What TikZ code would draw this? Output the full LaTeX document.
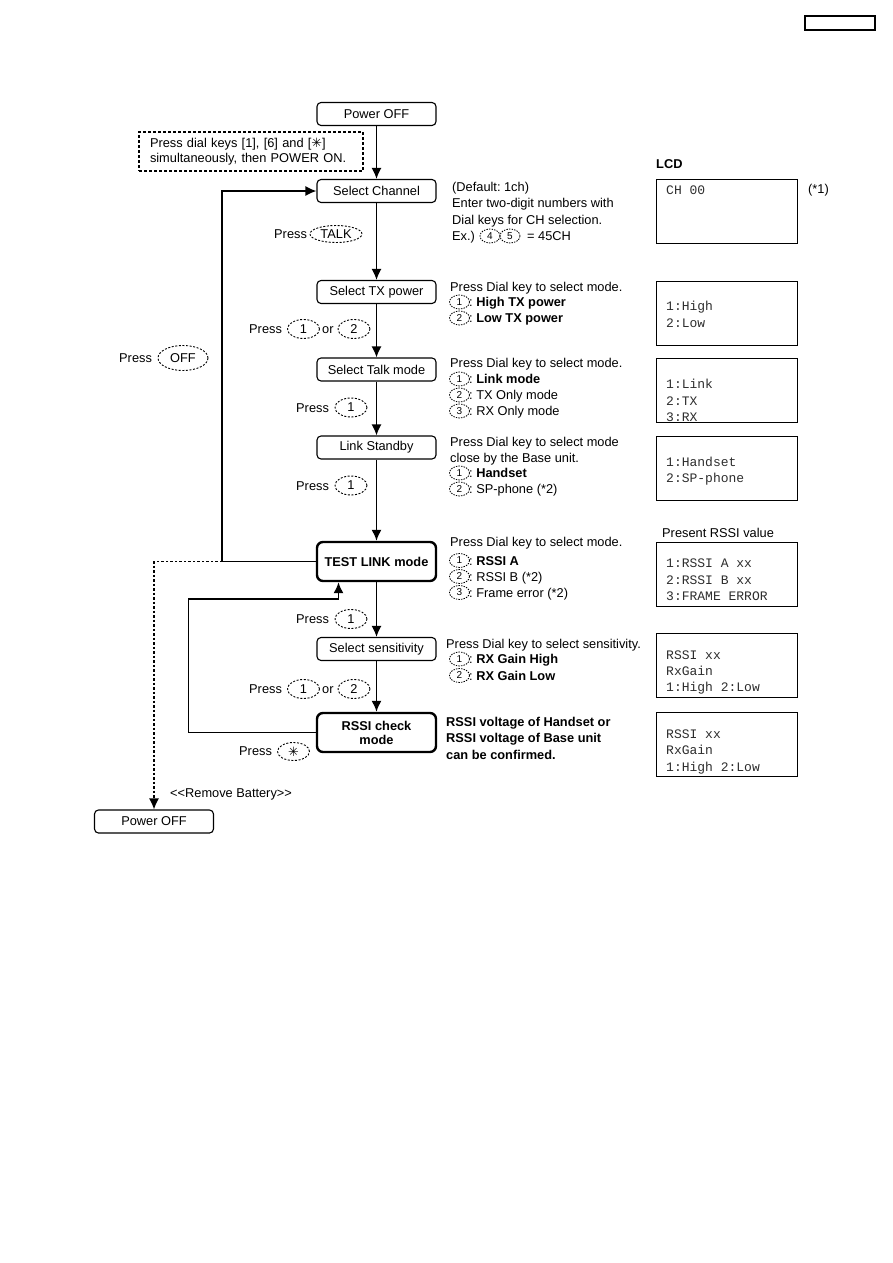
\documentclass[tikz,border=0pt]{standalone}
\usepackage{fontspec}
\setmainfont{Liberation Sans}
\setmonofont{Liberation Mono}
\newfontfamily\symfont{DejaVu Sans}
\usetikzlibrary{shapes.geometric,arrows.meta,positioning}
\definecolor{lcdink}{RGB}{45,45,45}
\frenchspacing

\begin{document}
\begin{tikzpicture}[x=1pt, y=-1pt, font=\fontsize{12.8}{16}\selectfont,
  stepbox/.style={draw, line width=1.1pt, rounded corners=4pt, minimum width=119pt, minimum height=23pt, inner sep=0pt},
  modebox/.style={stepbox, line width=2.4pt, rounded corners=6pt, minimum height=39pt, align=center, font=\fontsize{12.8}{14}\selectfont\bfseries},
  key/.style={draw, ellipse, dash pattern=on 2pt off 1.6pt, line width=0.9pt, minimum width=32pt, minimum height=19pt, inner sep=0pt},
  dial/.style={draw, ellipse, dash pattern=on 1.4pt off 1.2pt, line width=0.8pt, minimum width=20pt, minimum height=14pt, inner sep=0pt, font=\fontsize{10}{10}\selectfont},
  lcd/.style={draw, line width=1.2pt, anchor=north west, minimum width=141pt, minimum height=64pt, inner sep=0pt},
  lcdtxt/.style={anchor=base west, inner sep=0pt, text=lcdink, font=\fontsize{13}{13}\selectfont\ttfamily},
  txt/.style={anchor=base west, inner sep=0pt},
  flow/.style={line width=1.5pt, -{Latex[length=11pt,width=10pt]}},
]
\useasboundingbox (0,0) rectangle (893,1263);

% page tag
\node[draw, line width=1.2pt, minimum width=70pt, minimum height=14pt, inner sep=0pt] (tag) at (840,23) {};

% Flow steps
\node[stepbox] (offtop) at (376.5,114) {Power OFF};
\node[stepbox] (chan) at (376.5,191) {Select Channel};
\node[stepbox] (txpow) at (376.5,292) {Select TX power};
\node[stepbox] (talk) at (376.5,369.5) {Select Talk mode};
\node[stepbox] (link) at (376.5,447.5) {Link Standby};
\node[modebox] (test) at (376.5,561.5) {TEST LINK mode};
\node[stepbox] (sens) at (376.5,649) {Select sensitivity};
\node[modebox] (rssi) at (376.5,732.5) {RSSI check\\mode};
\node[stepbox] (offbot) at (154,821.5) {Power OFF};

% Start hint
\node[draw, line width=1.2pt, dash pattern=on 3pt off 2pt, minimum width=224pt, minimum height=39pt,
  inner xsep=11pt, text width=202pt, align=left, font=\fontsize{12.8}{15.5}\selectfont] (hint) at (251,151.5)
  {Press dial keys [1], [6] and [{\symfont ✳}]\\simultaneously, then POWER ON.};

% Main arrows
\draw[flow] (offtop) -- (chan);
\draw[flow] (chan) -- (txpow);
\draw[flow] (txpow) -- (talk);
\draw[flow] (talk) -- (link);
\draw[flow] (link) -- (test);
\draw[flow] (test) -- (sens);
\draw[flow] (sens) -- (rssi);

% Loops back
\coordinate (offturn) at (222,561.5);
\coordinate (rssiturn) at (188.5,599);
\draw[flow] (test.west) -- (offturn) |- (chan.west);
\draw[flow, dash pattern=on 2.5pt off 2pt] (offturn) -| (offbot.north);
\draw[flow] (rssi.west) -| (rssiturn) -| ([xshift=-38pt]test.south);

% Key presses
\node[txt] (presstalk) at (274,238.5) {Press};
\node[key, minimum width=52pt, minimum height=17pt] (keytalk) at (336,234) {TALK};
\node[txt] (pressoff) at (119,362.5) {Press};
\node[key, minimum width=50pt, minimum height=25pt] (keyoff) at (183,358) {OFF};
\foreach \n/\y in {a/407.5, b/485.5, c/619} {
  \node[txt] (press\n) at (296,\y+4.5) {Press};
  \node[key] (key\n) at (351,\y) {1};
}
\foreach \n/\y in {d/329, e/689} {
  \node[txt] (press\n) at (249,\y+4.5) {Press};
  \node[key] (key\n one) at (303.5,\y) {1};
  \node[txt] (or\n) at (322,\y+4.5) {or};
  \node[key] (key\n two) at (354,\y) {2};
}
\node[txt] (pressstar) at (239,755.5) {Press};
\node[key, minimum height=18pt] (keystar) at (293.5,751.5) {\symfont ✳};
\node[txt] (remove) at (170,797) {<\kern0pt<Remove Battery>\kern0pt>};

% Notes
\node[txt] (chdef) at (452,191) {(Default: 1ch)};
\node[txt] (chenter) at (452,207.5) {Enter two-digit numbers with};
\node[txt] (chdial) at (452,224) {Dial keys for CH selection.};
\node[txt] (chex) at (452,240.5) {Ex.)};
\node[dial] (dfour) at (490,236) {4};
\node[dial] (dfive) at (510,236) {5};
\node[txt] (chres) at (527,240.5) {= 45CH};
\foreach \n/\y in {tx/291, talk/367.5, test/546}
  \node[txt] (head\n) at (450,\y) {Press Dial key to select mode.};
\node[txt] (headlink) at (450,446) {Press Dial key to select mode};
\node[txt] (headlinkb) at (450,462) {close by the Base unit.};
\node[txt] (headsens) at (446,648.5) {Press Dial key to select sensitivity.};
\foreach \n/\k/\y/\t in {txa/1/306.5/\textbf{High TX power}, txb/2/322.5/\textbf{Low TX power},
    tka/1/383.5/\textbf{Link mode}, tkb/2/399.5/TX Only mode, tkc/3/415.5/RX Only mode,
    lka/1/477.5/\textbf{Handset}, lkb/2/493.5/SP-phone (*2),
    tsa/1/565/\textbf{RSSI A}, tsb/2/581/RSSI B (*2), tsc/3/597/Frame error (*2),
    sna/1/663.5/\textbf{RX Gain High}, snb/2/680/\textbf{RX Gain Low}} {
  \node[dial] (d\n) at (459.5,\y-4.5) {\k};
  \node[txt] (t\n) at (469,\y) {: \t};
}
\node[txt, font=\fontsize{12.8}{16.5}\selectfont\bfseries, align=left, anchor=north west] (rssinote) at (446,717)
  {RSSI voltage of Handset or\\RSSI voltage of Base unit\\can be confirmed.};

% LCD screens
\node[txt, font=\fontsize{12.8}{16}\selectfont\bfseries] (lcdhead) at (656,168) {LCD};
\node[txt] (rssihead) at (662,537) {Present RSSI value};
\node[txt] (starone) at (808,193) {(*1)};
\foreach \n/\y in {a/179, b/281, c/358, d/436, e/542, f/633, g/712}
  \node[lcd] (lcd\n) at (655.5,\y) {};
\foreach \n/\y/\t in {a/194/CH 00, b/310.5/1:High, c/327/2:Low,
    d/388/1:Link, e/405/2:TX, f/421/3:RX, g/466/1:Handset, h/482/2:SP-phone,
    i/567.5/1:RSSI A xx, j/584.5/2:RSSI B xx, k/600.5/3:FRAME ERROR,
    l/659.5/RSSI xx, m/675.5/RxGain, n/691/1:High 2:Low,
    o/738.5/RSSI xx, p/754.5/RxGain, q/771/1:High 2:Low}
  \node[lcdtxt] (lcdline\n) at (666,\y) {\t};

\end{tikzpicture}
\end{document}
